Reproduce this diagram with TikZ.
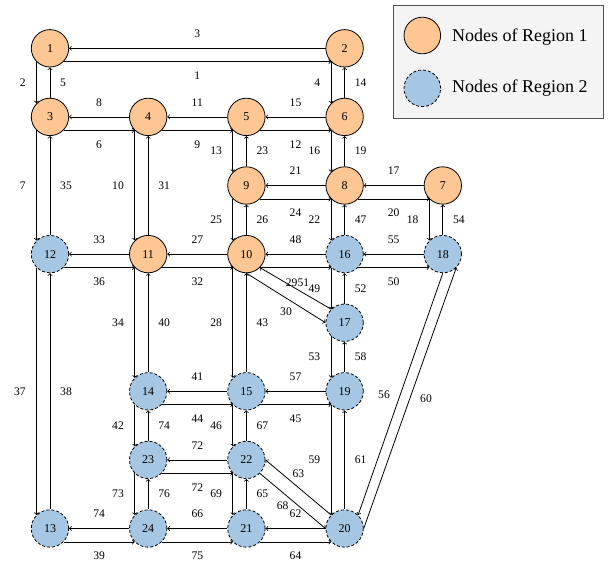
\documentclass[tikz,border=0pt]{standalone}
\usepackage{fontspec}
\setmainfont{Liberation Serif}
\usetikzlibrary{calc}
\definecolor{regone}{RGB}{253,198,146}
\definecolor{regtwo}{RGB}{166,199,227}
\definecolor{legfill}{RGB}{244,244,244}
\definecolor{legdraw}{RGB}{80,80,80}
\tikzset{
  netnode/.style={circle,minimum size=37.4pt,inner sep=0pt,line width=0.8pt,font=\fontsize{12}{14}\selectfont},
  rone/.style={netnode,draw=black,fill=regone},
  rtwo/.style={netnode,draw=black,fill=regtwo,dash pattern=on 3pt off 2pt},
  arc/.style={->,line width=0.8pt,black},
  lab/.style={inner sep=0pt,font=\fontsize{11.6}{13}\selectfont},
  legtext/.style={inner sep=0pt,anchor=west,font=\fontsize{18}{20}\selectfont}
}
\newcommand\HPair[4]{%
  \draw[arc] (#2.west) -- (#1.east);
  \draw[arc] (#1.south east) -- (#2.south west);
  \node[lab,anchor=south] at ($(#1)!0.5!(#2)+(0,-10.5)$) {#3};
  \node[lab,anchor=north] at ($(#1)!0.5!(#2)+(0,23.3)$) {#4};
}
\newcommand\VPair[4]{%
  \draw[arc] (#1.south west) -- (#2.north west);
  \draw[arc] (#2.north) -- (#1.south);
  \node[lab,anchor=east] at ($(#1)!0.5!(#2)+(-24.2,0)$) {#3};
  \node[lab,anchor=west] at ($(#1)!0.5!(#2)+(10,0)$) {#4};
}
\begin{document}
\begin{tikzpicture}[x=1pt,y=-1pt]
\useasboundingbox (0,0) rectangle (610,562);
% columns and rows
\def\cA{50}\def\cB{148.2}\def\cC{246.4}\def\cD{344.6}\def\cE{442.8}
\def\rA{48.3}\def\rB{116.9}\def\rC{185.5}\def\rD{254.1}\def\rE{322.7}\def\rF{391.3}\def\rG{459.9}\def\rH{528.5}
% nodes
\node[rone] (n1) at (\cA,\rA) {1};
\node[rone] (n2) at (\cD,\rA) {2};
\node[rone] (n3) at (\cA,\rB) {3};
\node[rone] (n4) at (\cB,\rB) {4};
\node[rone] (n5) at (\cC,\rB) {5};
\node[rone] (n6) at (\cD,\rB) {6};
\node[rone] (n7) at (\cE,\rC) {7};
\node[rone] (n8) at (\cD,\rC) {8};
\node[rone] (n9) at (\cC,\rC) {9};
\node[rone] (n10) at (\cC,\rD) {10};
\node[rone] (n11) at (\cB,\rD) {11};
\node[rtwo] (n12) at (\cA,\rD) {12};
\node[rtwo] (n13) at (\cA,\rH) {13};
\node[rtwo] (n14) at (\cB,\rF) {14};
\node[rtwo] (n15) at (\cC,\rF) {15};
\node[rtwo] (n16) at (\cD,\rD) {16};
\node[rtwo] (n17) at (\cD,\rE) {17};
\node[rtwo] (n18) at (\cE,\rD) {18};
\node[rtwo] (n19) at (\cD,\rF) {19};
\node[rtwo] (n20) at (\cD,\rH) {20};
\node[rtwo] (n21) at (\cC,\rH) {21};
\node[rtwo] (n22) at (\cC,\rG) {22};
\node[rtwo] (n23) at (\cB,\rG) {23};
\node[rtwo] (n24) at (\cB,\rH) {24};
% horizontal pairs
\HPair{n1}{n2}{3}{1}
\HPair{n3}{n4}{8}{6}
\HPair{n4}{n5}{11}{9}
\HPair{n5}{n6}{15}{12}
\HPair{n9}{n8}{21}{24}
\HPair{n8}{n7}{17}{20}
\HPair{n12}{n11}{33}{36}
\HPair{n11}{n10}{27}{32}
\HPair{n16}{n18}{55}{50}
\HPair{n14}{n15}{41}{44}
\HPair{n15}{n19}{57}{45}
\HPair{n23}{n22}{72}{72}
\HPair{n24}{n21}{66}{75}
\HPair{n21}{n20}{62}{64}
\HPair{n13}{n24}{74}{39}
% pair 10-16 (labels placed by hand)
\draw[arc] (n16.west) -- (n10.east);
\draw[arc] (n10.south east) -- (n16.south west);
\node[lab,anchor=south] at ($(n10)!0.5!(n16)+(0,-10.5)$) {48};
\node[lab] (l29) at (291.7,282.5) {29};
% vertical pairs
\VPair{n1}{n3}{2}{5}
\VPair{n2}{n6}{4}{14}
\VPair{n5}{n9}{13}{23}
\VPair{n6}{n8}{16}{19}
\VPair{n3}{n12}{7}{35}
\VPair{n4}{n11}{10}{31}
\VPair{n9}{n10}{25}{26}
\VPair{n8}{n16}{22}{47}
\VPair{n7}{n18}{18}{54}
\VPair{n12}{n13}{37}{38}
\VPair{n11}{n14}{34}{40}
\VPair{n10}{n15}{28}{43}
\VPair{n16}{n17}{49}{52}
\VPair{n17}{n19}{53}{58}
\VPair{n14}{n23}{42}{74}
\VPair{n15}{n22}{46}{67}
\VPair{n19}{n20}{59}{61}
\VPair{n23}{n24}{73}{76}
\VPair{n22}{n21}{69}{65}
% diagonal arcs
\draw[arc] (n17.north west) -- (n10.south east);
\draw[arc] (n10.south) -- (n17.west);
\draw[arc] (n18.south) -- (n20.north east);
\draw[arc] (n20.east) -- (n18.south east);
\draw[arc] (n20.north west) -- (n22.east);
\draw[arc] (n22.south east) -- (n20.west);
\node[lab] (l51) at (303.3,282.5) {51};
\node[lab] (l30) at (286,311.2) {30};
\node[lab] (l56) at (384,394.5) {56};
\node[lab] (l60) at (426,398.5) {60};
\node[lab] (l63) at (298.3,473.3) {63};
\node[lab] (l68) at (282.7,506) {68};
% legend
\draw[legdraw,fill=legfill,line width=0.8pt] (393.3,5) rectangle (603.3,118.3);
\node[rone,minimum size=36.6pt] (lg1) at (422.3,35.5) {};
\node[rtwo,minimum size=36.6pt] (lg2) at (422.3,88.3) {};
\node[legtext] (lt1) at (452,37) {Nodes of Region 1};
\node[legtext] (lt2) at (452,88.5) {Nodes of Region 2};
\end{tikzpicture}
\end{document}
